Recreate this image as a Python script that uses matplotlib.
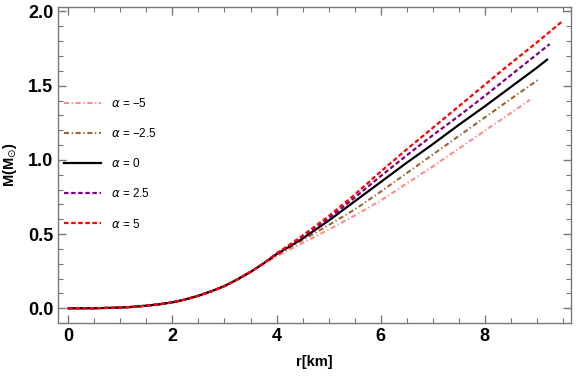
import matplotlib
matplotlib.use('Agg')
import matplotlib.pyplot as plt
from matplotlib.ticker import MultipleLocator

plt.rcParams['font.family'] = ['Liberation Sans', 'DejaVu Sans']
plt.rcParams['mathtext.fontset'] = 'dejavusans'

# mass profiles M(r) for different alpha
r_common = [0, 0.5, 1.0, 1.25, 1.5, 1.75, 2.0, 2.25, 2.5, 2.75, 3.0, 3.25, 3.5, 3.75]
m_common = [0, 0.0005, 0.005, 0.01, 0.018, 0.027, 0.04, 0.06, 0.085, 0.115, 0.15, 0.195, 0.245, 0.302]

r_m5 = r_common + [4.0, 4.25, 4.5, 5.0, 5.5, 6.0, 6.5, 7.0, 7.5, 8.0, 8.5, 8.87]
m_m5 = m_common + [0.35, 0.395, 0.44, 0.53, 0.625, 0.725, 0.84, 0.955, 1.075, 1.195, 1.315, 1.405]

r_m25 = r_common + [4.0, 4.25, 4.5, 5.0, 5.5, 6.0, 6.5, 7.0, 7.5, 8.0, 8.5, 9.05]
m_m25 = m_common + [0.36, 0.41, 0.46, 0.56, 0.665, 0.785, 0.91, 1.035, 1.16, 1.285, 1.41, 1.545]

r_0 = r_common + [4.0, 4.25, 4.5, 5.0, 5.5, 6.0, 6.5, 7.0, 7.5, 8.0, 8.5, 9.0, 9.2]
m_0 = m_common + [0.365, 0.416, 0.47, 0.59, 0.72, 0.85, 0.98, 1.105, 1.235, 1.36, 1.49, 1.62, 1.675]

r_p25 = r_common + [4.0, 4.25, 4.5, 5.0, 5.5, 6.0, 6.5, 7.0, 7.5, 8.0, 8.5, 9.0, 9.25]
m_p25 = m_common + [0.367, 0.422, 0.48, 0.605, 0.745, 0.89, 1.03, 1.165, 1.295, 1.43, 1.57, 1.71, 1.78]

r_p5 = r_common + [4.0, 4.25, 4.5, 5.0, 5.5, 6.0, 6.5, 7.0, 7.5, 8.0, 8.5, 9.0, 9.48]
m_p5 = m_common + [0.37, 0.428, 0.49, 0.62, 0.765, 0.92, 1.07, 1.215, 1.36, 1.505, 1.65, 1.79, 1.93]

labels = [r'$\alpha$ = −5', r'$\alpha$ = −2.5', r'$\alpha$ = 0', r'$\alpha$ = 2.5', r'$\alpha$ = 5']

fig = plt.figure(figsize=(5.76, 3.77), dpi=100)
ax = fig.add_axes([58/576, 54/377, 513/576, 316/377])

dotdash = (2.4, 1.3, 0.6, 1.3)
ax.plot(r_m5, m_m5, color='#ff8a8a', lw=1.5, dashes=dotdash, label=labels[0])
ax.plot(r_m25, m_m25, color='#996633', lw=1.5, dashes=dotdash, label=labels[1])
ax.plot(r_0, m_0, color='black', lw=1.6, label=labels[2])
ax.plot(r_p25, m_p25, color='#800080', lw=1.6, dashes=(2, 1.2), label=labels[3])
ax.plot(r_p5, m_p5, color='red', lw=1.6, dashes=(2, 1.2), label=labels[4])

ax.set_xlim(-0.2, 9.66)
ax.set_ylim(-0.099, 2.03)
ax.xaxis.set_major_locator(MultipleLocator(2))
ax.xaxis.set_minor_locator(MultipleLocator(0.5))
ax.yaxis.set_major_locator(MultipleLocator(0.5))
ax.yaxis.set_minor_locator(MultipleLocator(0.1))
ax.yaxis.set_major_formatter(plt.FuncFormatter(lambda v, p: f'{v:.1f}'))

for s in ax.spines.values():
    s.set_color('#777777')
    s.set_linewidth(1.0)
ax.tick_params(which='both', direction='in', top=True, right=True, colors='#777777',
               labelcolor='black', labelsize=13)
ax.tick_params(which='major', length=6, width=1)
ax.tick_params(which='minor', length=3.5, width=0.8)
for t in ax.get_xticklabels() + ax.get_yticklabels():
    t.set_fontweight('bold')

ax.set_xlabel('r[km]', fontsize=10.5, fontweight='bold', labelpad=7)
ax.set_ylabel(r'M(M$_{\odot}$)', fontsize=10.5, fontweight='bold', labelpad=6)

ax.legend(loc='upper left', bbox_to_anchor=(0.011, 0.715), frameon=False, fontsize=8.5,
          handlelength=3.2, handletextpad=0.8, labelspacing=1.45, borderpad=0, borderaxespad=0)

fig.savefig('out.png', dpi=100)
